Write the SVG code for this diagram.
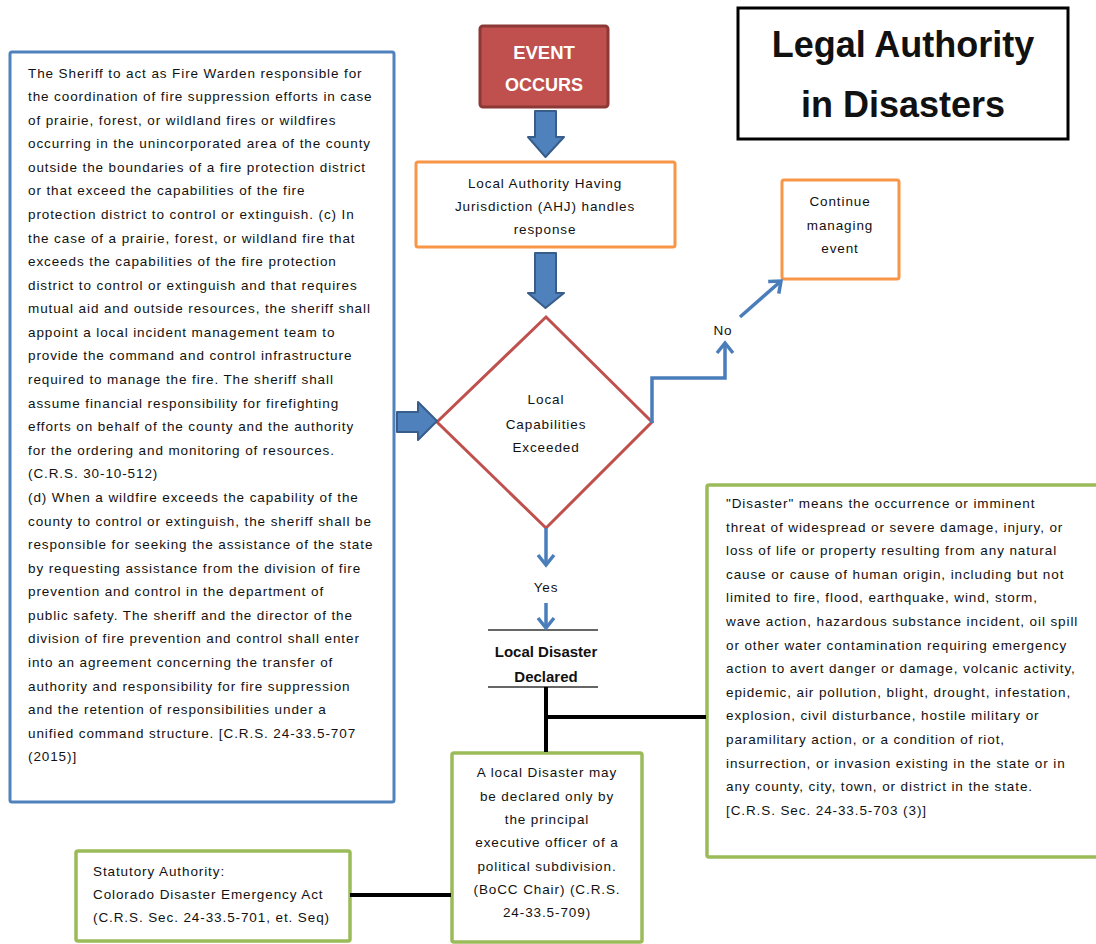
<svg xmlns="http://www.w3.org/2000/svg" width="1096" height="944" viewBox="0 0 1096 944">
  <style>
    .txt { font-family: "Liberation Sans", Arial, sans-serif; font-size: 13.5px; letter-spacing: 0.9px; fill: #111; }
    .mid { text-anchor: middle; }
    .bold { font-weight: bold; letter-spacing: 0; }
    .blueBox { fill: #fff; stroke: #4f81bd; stroke-width: 3; }
    .orangeBox { fill: #fff; stroke: #f79646; stroke-width: 3; }
    .greenBox { fill: #fff; stroke: #9bbb59; stroke-width: 3.5; }
    .block { fill: #4f81bd; stroke: #385d8a; stroke-width: 2; stroke-linejoin: round; }
    .flow { fill: none; stroke: #4a7ebb; stroke-width: 3.5; }
    .link { fill: none; stroke: #000; stroke-width: 4; }
    .rule { fill: none; stroke: #333; stroke-width: 1.5; }
  </style>
  <defs>
    <marker id="vee" markerUnits="userSpaceOnUse" markerWidth="24" markerHeight="24" viewBox="-12 -12 24 24" refX="0" refY="0" orient="auto">
      <path d="M-10,-8 L0,0 L-10,8" fill="none" stroke="#4a7ebb" stroke-width="3.5"/>
    </marker>
  </defs>

  <rect width="1096" height="944" fill="#fff"/>

  <!-- Title -->
  <g id="title">
    <rect x="738" y="8" width="330" height="131" fill="#fff" stroke="#000" stroke-width="3"/>
    <text class="txt bold mid" x="903" y="57" style="font-size:36px">Legal Authority</text>
    <text class="txt bold mid" x="903" y="117" style="font-size:36px">in Disasters</text>
  </g>

  <!-- Sheriff / fire warden statute -->
  <g id="sheriff-authority">
    <rect class="blueBox" x="10" y="52" width="384" height="750" rx="2"/>
    <text class="txt" x="28" y="77.5">
      <tspan x="28">The Sheriff to act as Fire Warden responsible for</tspan>
      <tspan x="28" dy="23.58">the coordination of fire suppression efforts in case</tspan>
      <tspan x="28" dy="23.58">of prairie, forest, or wildland fires or wildfires</tspan>
      <tspan x="28" dy="23.58">occurring in the unincorporated area of the county</tspan>
      <tspan x="28" dy="23.58">outside the boundaries of a fire protection district</tspan>
      <tspan x="28" dy="23.58">or that exceed the capabilities of the fire</tspan>
      <tspan x="28" dy="23.58">protection district to control or extinguish. (c) In</tspan>
      <tspan x="28" dy="23.58">the case of a prairie, forest, or wildland fire that</tspan>
      <tspan x="28" dy="23.58">exceeds the capabilities of the fire protection</tspan>
      <tspan x="28" dy="23.58">district to control or extinguish and that requires</tspan>
      <tspan x="28" dy="23.58">mutual aid and outside resources, the sheriff shall</tspan>
      <tspan x="28" dy="23.58">appoint a local incident management team to</tspan>
      <tspan x="28" dy="23.58">provide the command and control infrastructure</tspan>
      <tspan x="28" dy="23.58">required to manage the fire. The sheriff shall</tspan>
      <tspan x="28" dy="23.58">assume financial responsibility for firefighting</tspan>
      <tspan x="28" dy="23.58">efforts on behalf of the county and the authority</tspan>
      <tspan x="28" dy="23.58">for the ordering and monitoring of resources.</tspan>
      <tspan x="28" dy="23.58">(C.R.S. 30-10-512)</tspan>
      <tspan x="28" dy="23.58">(d) When a wildfire exceeds the capability of the</tspan>
      <tspan x="28" dy="23.58">county to control or extinguish, the sheriff shall be</tspan>
      <tspan x="28" dy="23.58">responsible for seeking the assistance of the state</tspan>
      <tspan x="28" dy="23.58">by requesting assistance from the division of fire</tspan>
      <tspan x="28" dy="23.58">prevention and control in the department of</tspan>
      <tspan x="28" dy="23.58">public safety.  The sheriff and the director of the</tspan>
      <tspan x="28" dy="23.58">division of fire prevention and control shall enter</tspan>
      <tspan x="28" dy="23.58">into an agreement concerning the transfer of</tspan>
      <tspan x="28" dy="23.58">authority and responsibility for fire suppression</tspan>
      <tspan x="28" dy="23.58">and the retention of responsibilities under a</tspan>
      <tspan x="28" dy="23.58">unified command structure. [C.R.S. 24-33.5-707</tspan>
      <tspan x="28" dy="23.58">(2015)]</tspan>
    </text>
  </g>

  <!-- Event occurs -->
  <g id="event-occurs">
    <rect x="480" y="26" width="128" height="81" rx="3" fill="#c0504d" stroke="#8c3836" stroke-width="3"/>
    <text class="txt bold mid" x="544" y="59" style="font-size:18.5px;fill:#fff">EVENT</text>
    <text class="txt bold mid" x="544" y="91" style="font-size:18px;fill:#fff">OCCURS</text>
  </g>

  <!-- Local AHJ -->
  <g id="local-ahj">
    <rect class="orangeBox" x="416" y="162" width="259" height="85" rx="2"/>
    <text class="txt mid" x="545" y="188">Local Authority Having</text>
    <text class="txt mid" x="545" y="211">Jurisdiction (AHJ) handles</text>
    <text class="txt mid" x="545" y="234">response</text>
  </g>

  <!-- Decision -->
  <g id="local-capabilities">
    <polygon points="546,317 652,422 546,528 437,422" fill="#fff" stroke="#c0504d" stroke-width="3"/>
    <text class="txt mid" x="546" y="404">Local</text>
    <text class="txt mid" x="546" y="429">Capabilities</text>
    <text class="txt mid" x="546" y="452">Exceeded</text>
  </g>

  <!-- Continue managing -->
  <g id="continue-managing">
    <rect class="orangeBox" x="782" y="180" width="117" height="99" rx="2"/>
    <text class="txt mid" x="840" y="206">Continue</text>
    <text class="txt mid" x="840" y="230">managing</text>
    <text class="txt mid" x="840" y="253">event</text>
  </g>

  <!-- Local Disaster Declared -->
  <g id="disaster-declared">
    <line class="rule" x1="488" y1="630" x2="598" y2="630"/>
    <text class="txt bold mid" x="546" y="657" style="font-size:15px">Local Disaster</text>
    <text class="txt bold mid" x="546" y="682" style="font-size:15px">Declared</text>
    <line class="rule" x1="488" y1="687" x2="598" y2="687"/>
  </g>

  <!-- Disaster definition -->
  <g id="disaster-definition">
    <rect class="greenBox" x="707" y="485" width="420" height="372" rx="2"/>
    <text class="txt" x="726" y="508">
      <tspan x="726">"Disaster" means the occurrence or imminent</tspan>
      <tspan x="726" dy="23.6">threat of widespread or severe damage, injury, or</tspan>
      <tspan x="726" dy="23.6">loss of life or property resulting from any natural</tspan>
      <tspan x="726" dy="23.6">cause or cause of human origin, including but not</tspan>
      <tspan x="726" dy="23.6">limited to fire, flood, earthquake, wind, storm,</tspan>
      <tspan x="726" dy="23.6">wave action, hazardous substance incident, oil spill</tspan>
      <tspan x="726" dy="23.6">or other water contamination requiring emergency</tspan>
      <tspan x="726" dy="23.6">action to avert danger or damage, volcanic activity,</tspan>
      <tspan x="726" dy="23.6">epidemic, air pollution, blight, drought, infestation,</tspan>
      <tspan x="726" dy="23.6">explosion, civil disturbance, hostile military or</tspan>
      <tspan x="726" dy="23.6">paramilitary action, or a condition of riot,</tspan>
      <tspan x="726" dy="23.6">insurrection, or invasion existing in the state or in</tspan>
      <tspan x="726" dy="23.6">any county, city, town, or district in the state.</tspan>
      <tspan x="726" dy="23.6">[C.R.S. Sec. 24-33.5-703 (3)]</tspan>
    </text>
  </g>

  <!-- Who may declare -->
  <g id="declaring-officer">
    <rect class="greenBox" x="452" y="753" width="190" height="189" rx="2"/>
    <text class="txt mid" x="547" y="777">A local Disaster may</text>
    <text class="txt mid" x="547" y="801">be declared only by</text>
    <text class="txt mid" x="547" y="824">the principal</text>
    <text class="txt mid" x="547" y="847">executive officer of a</text>
    <text class="txt mid" x="547" y="871">political subdivision.</text>
    <text class="txt mid" x="547" y="894">(BoCC Chair) (C.R.S.</text>
    <text class="txt mid" x="547" y="917">24-33.5-709)</text>
  </g>

  <!-- Statutory authority -->
  <g id="statutory-authority">
    <rect class="greenBox" x="76" y="851" width="274" height="90" rx="2"/>
    <text class="txt" x="93" y="876">Statutory Authority:</text>
    <text class="txt" x="93" y="899">Colorado Disaster Emergency Act</text>
    <text class="txt" x="93" y="922">(C.R.S. Sec. 24-33.5-701, et. Seq)</text>
  </g>

  <!-- Connectors -->
  <g id="connectors">
    <!-- block arrows -->
    <polygon class="block" points="535,111 556,111 556,137 564,137 545.5,157 528,137 535,137"/>
    <polygon class="block" points="535,253 556,253 556,293 564,293 545.5,308 528,293 535,293"/>
    <polygon class="block" points="397,412 418,412 418,402 437,421 418,440 418,432 397,432"/>
    <!-- No branch -->
    <polyline class="flow" points="652,423 652,378 725,378 725,343" marker-end="url(#vee)"/>
    <text class="txt mid" x="723" y="335">No</text>
    <line class="flow" x1="740" y1="317" x2="781" y2="281" marker-end="url(#vee)"/>
    <!-- Yes branch -->
    <line class="flow" x1="546" y1="528" x2="546" y2="565" marker-end="url(#vee)"/>
    <text class="txt mid" x="546" y="592">Yes</text>
    <line class="flow" x1="546" y1="603" x2="546" y2="628" marker-end="url(#vee)"/>
    <!-- legal links -->
    <line class="link" x1="546" y1="687" x2="546" y2="752"/>
    <line class="link" x1="546" y1="717" x2="706" y2="717"/>
    <line class="link" x1="350" y1="895" x2="451" y2="895"/>
  </g>
</svg>
